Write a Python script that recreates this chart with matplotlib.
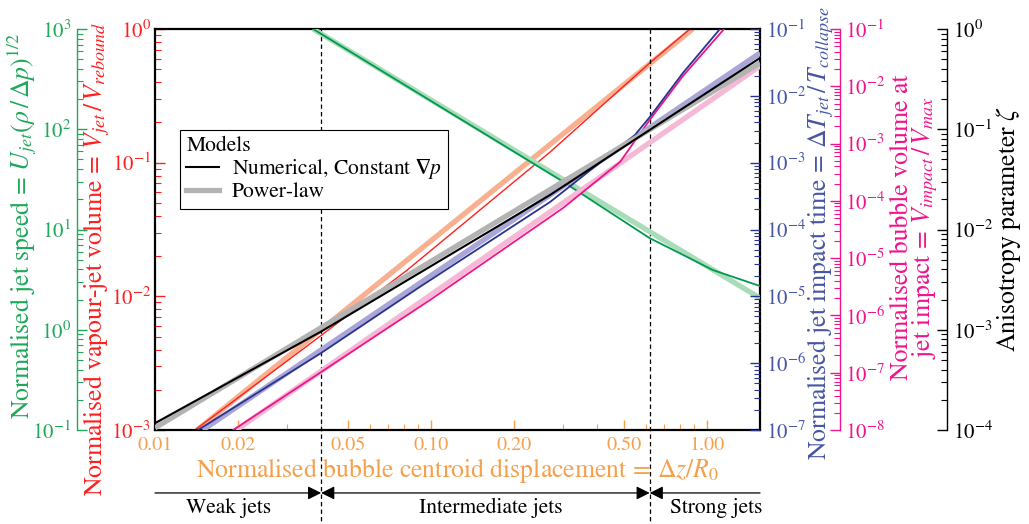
import matplotlib
matplotlib.use("Agg")
import matplotlib.pyplot as plt
import matplotlib.transforms as mtransforms
from matplotlib.lines import Line2D
from matplotlib.ticker import LogLocator, FixedLocator, FixedFormatter, NullFormatter
import numpy as np

plt.rcParams["font.family"] = ["STIXGeneral", "DejaVu Sans"]
plt.rcParams["mathtext.fontset"] = "stix"

# ---------------------------------------------------------------- data
# normalised bubble centroid displacement (shared x)
x_range = (0.01, 1.556)
xticks = [0.01, 0.02, 0.05, 0.10, 0.20, 0.50, 1.00]
xtick_labels = ["0.01", "0.02", "0.05", "0.10", "0.20", "0.50", "1.00"]
regime_bounds = [0.04, 0.62]
regime_names = ["Weak jets", "Intermediate jets", "Strong jets"]

# vapour-jet volume V_jet / V_rebound
vol_num_x = [0.01396, 0.04, 0.0819, 0.27, 0.62, 0.867]
vol_num_y = [1e-3, 5.1e-3, 0.0157, 0.120, 0.557, 1.0]
vol_pow_x = [0.0142, 0.888]
vol_pow_y = [1e-3, 1.0]

# jet speed U_jet (rho / dp)^1/2
speed_num_x = [0.0374, 0.294, 0.62, 0.85, 1.05, 1.556]
speed_num_y = [1000.0, 31.2, 8.2, 5.3, 3.94, 2.73]
speed_pow_x = [0.0374, 1.556]
speed_pow_y = [1000.0, 2.07]

# jet impact time dT_jet / T_collapse
time_num_x = [0.01432, 0.04, 0.091, 0.27, 0.548, 0.62, 0.818, 1.114]
time_num_y = [1e-7, 1.42e-6, 1.38e-5, 2.58e-4, 2.59e-3, 4.8e-3, 0.022, 0.1]
time_pow_x = [0.0149, 1.556]
time_pow_y = [1e-7, 0.0438]

# bubble volume at jet impact V_impact / V_max
vimp_num_x = [0.0192, 0.04, 0.0992, 0.301, 0.484, 0.62, 0.818, 1.153]
vimp_num_y = [1e-8, 1.03e-7, 1.86e-6, 7.51e-5, 4.77e-4, 2.58e-3, 0.0151, 0.1]
vimp_pow_x = [0.0197, 1.556]
vimp_pow_y = [1e-8, 0.0226]

# anisotropy parameter zeta
zeta_num_x = [0.01, 0.04, 0.173, 0.27, 0.62, 1.556]
zeta_num_y = [1.17e-4, 9.6e-4, 0.0106, 0.0221, 0.0984, 0.514]
zeta_pow_x = [0.01, 1.556]
zeta_pow_y = [1.05e-4, 0.458]

# ---------------------------------------------------------------- colours
C_ORANGE = "#f5a04c"
C_RED, C_RED_PL = "#ff1f1f", "#f8b090"
C_GREEN_LBL, C_GREEN, C_GREEN_PL = "#1fa85a", "#009a4e", "#a9dcb9"
C_BLUE_LBL, C_BLUE, C_BLUE_PL = "#4656a6", "#28338f", "#aaa7d8"
C_PINK, C_PINK_PL = "#f0148c", "#f5b9d6"
C_GRAY = "#b3b3b3"

YTICK_FS = 15
XTICK_FS = 14.5
LABEL_FS = 18.5
TEXT_FS = 15.5
LW_NUM = 1.3
LW_PL = 3.8

fig = plt.figure(figsize=(10.29, 5.24), dpi=100)
ax = fig.add_axes([155 / 1029, 1 - 430 / 524, 605 / 1029, 401 / 524])


def log_y(a, lo, hi, color, side):
    a.set_yscale("log")
    a.set_ylim(lo, hi)
    a.yaxis.set_major_locator(LogLocator(base=10, numticks=30))
    a.yaxis.set_minor_locator(LogLocator(base=10, subs=np.arange(2, 10), numticks=30))
    a.yaxis.set_minor_formatter(NullFormatter())
    a.yaxis.set_ticks_position(side)
    a.tick_params(axis="y", which="both", direction="in", colors=color,
                  labelsize=YTICK_FS, pad=4)
    a.tick_params(axis="y", which="major", length=7, width=1.0)
    a.tick_params(axis="y", which="minor", length=4, width=0.8)


# main axes: vapour-jet volume (left, red) and displacement (bottom, orange)
ax.set_xscale("log")
ax.set_xlim(*x_range)
ax.xaxis.set_major_locator(FixedLocator(xticks))
ax.xaxis.set_major_formatter(FixedFormatter(xtick_labels))
ax.xaxis.set_minor_locator(FixedLocator([0.03, 0.04, 0.06, 0.07, 0.08, 0.09,
                                         0.3, 0.4, 0.6, 0.7, 0.8, 0.9]))
ax.xaxis.set_minor_formatter(NullFormatter())
ax.tick_params(axis="x", which="both", direction="in", colors=C_ORANGE,
               labelsize=XTICK_FS, pad=5)
ax.tick_params(axis="x", which="major", length=7, width=1.0)
ax.tick_params(axis="x", which="minor", length=4, width=0.8)
log_y(ax, 1e-3, 1.0, C_RED, "left")
ax.tick_params(axis="y", pad=3)
for s in ax.spines.values():
    s.set_linewidth(1.6)
    s.set_color("black")

ax.plot(vol_pow_x, vol_pow_y, color=C_RED_PL, lw=LW_PL, solid_capstyle="butt")
ax.plot(vol_num_x, vol_num_y, color=C_RED, lw=1.0)
ax.set_ylabel(r"Normalised vapour-jet volume$\,=\,V_{jet}\,/\,V_{rebound}$",
              color=C_RED, fontsize=LABEL_FS, ha="center", va="center")
ax.yaxis.set_label_coords(-0.096, 0.427)
ax.set_xlabel(r"Normalised bubble centroid displacement$\,=\,\Delta z/R_0$",
              color=C_ORANGE, fontsize=LABEL_FS, ha="center", va="center")
ax.xaxis.set_label_coords(0.5, -0.10)


def twin(pos, side, spine_color):
    a = ax.twinx()
    for s in a.spines.values():
        s.set_visible(False)
    a.yaxis.set_label_position(side)
    if pos is not None:
        a.spines[side].set_visible(True)
        a.spines[side].set_position(("axes", pos))
        a.spines[side].set_color(spine_color)
        a.spines[side].set_linewidth(1.0)
    return a


# jet speed (far left, green)
ax_g = twin(-0.129, "left", C_GREEN_LBL)
log_y(ax_g, 0.1, 1000.0, C_GREEN_LBL, "left")
ax_g.plot(speed_pow_x, speed_pow_y, color=C_GREEN_PL, lw=LW_PL, solid_capstyle="butt")
ax_g.plot(speed_num_x, speed_num_y, color=C_GREEN, lw=LW_NUM)
ax_g.set_ylabel(r"Normalised jet speed$\,=\,U_{jet}(\rho\,/\,\Delta p)^{1/2}$",
                color=C_GREEN_LBL, fontsize=LABEL_FS, ha="center", va="center")
ax_g.yaxis.set_label_coords(-0.219, 0.51)

# bubble volume at impact (right, pink)
ax_p = twin(1.132, "right", C_PINK)
log_y(ax_p, 1e-8, 0.1, C_PINK, "right")
ax_p.plot(vimp_pow_x, vimp_pow_y, color=C_PINK_PL, lw=LW_PL, solid_capstyle="butt")
ax_p.plot(vimp_num_x, vimp_num_y, color=C_PINK, lw=LW_NUM)
ax_p.set_ylabel("Normalised bubble volume at\n"
                r"jet impact$\,=\,V_{impact}\,/\,V_{max}$",
                color=C_PINK, fontsize=LABEL_FS, ha="center", va="center",
                multialignment="center", linespacing=0.85)
ax_p.yaxis.set_label_coords(1.256, 0.505)

# jet impact time (right, blue)
ax_b = twin(None, "right", C_BLUE)
log_y(ax_b, 1e-7, 0.1, C_BLUE_LBL, "right")
ax_b.tick_params(axis="y", which="both", color=C_BLUE)
ax_b.plot(time_pow_x, time_pow_y, color=C_BLUE_PL, lw=LW_PL, solid_capstyle="butt")
ax_b.plot(time_num_x, time_num_y, color=C_BLUE, lw=LW_NUM)
ax_b.set_ylabel(r"Normalised jet impact time$\,=\,\Delta T_{jet}\,/\,T_{collapse}$",
                color=C_BLUE_LBL, fontsize=LABEL_FS, ha="center", va="center")
ax_b.yaxis.set_label_coords(1.101, 0.49)

# anisotropy parameter (far right, black)
ax_k = twin(1.309, "right", "black")
log_y(ax_k, 1e-4, 1.0, "black", "right")
ax_k.plot(zeta_pow_x, zeta_pow_y, color=C_GRAY, lw=LW_PL, solid_capstyle="butt")
ax_k.plot(zeta_num_x, zeta_num_y, color="black", lw=1.5)
ax_k.set_ylabel(r"Anisotropy parameter $\zeta$", color="black",
                fontsize=LABEL_FS, ha="center", va="center")
ax_k.yaxis.set_label_coords(1.410, 0.50)

# regime boundaries and arrows beneath the axis
trans = mtransforms.blended_transform_factory(ax.transData, ax.transAxes)
for b in regime_bounds:
    ax.plot([b, b], [1.0, -0.24], transform=trans, color="black", lw=0.9,
            ls=(0, (3.5, 2.5)), clip_on=False, zorder=5)

edges = [x_range[0]] + regime_bounds + [x_range[1]]
styles = ["-|>", "<|-|>", "<|-"]
text_x = [0.121, 0.555, 0.927]
y_arrow, y_text = -0.157, -0.194
for i, name in enumerate(regime_names):
    ax.annotate("", xy=(edges[i + 1], y_arrow), xytext=(edges[i], y_arrow),
                xycoords=trans, textcoords=trans, annotation_clip=False,
                arrowprops=dict(arrowstyle=styles[i], color="black", lw=0.9,
                                shrinkA=0, shrinkB=0, mutation_scale=20))
    ax.text(text_x[i], y_text, name, transform=ax.transAxes, ha="center",
            va="center", fontsize=TEXT_FS, clip_on=False)

# legend
handles = [Line2D([], [], color="black", lw=1.5),
           Line2D([], [], color=C_GRAY, lw=LW_PL)]
leg = ax_k.legend(handles, [r"Numerical, Constant $\boldsymbol{\nabla} p$", "Power-law"],
                  title="Models", loc="upper left", bbox_to_anchor=(0.0413, 0.748),
                  borderaxespad=0, fancybox=False, framealpha=1, edgecolor="black",
                  fontsize=TEXT_FS, title_fontsize=TEXT_FS, handlelength=1.5,
                  handletextpad=0.6, labelspacing=0.05, borderpad=0.3,
                  alignment="left")
leg.get_frame().set_linewidth(0.8)
leg.set_zorder(10)

fig.savefig("out.png", dpi=100)
